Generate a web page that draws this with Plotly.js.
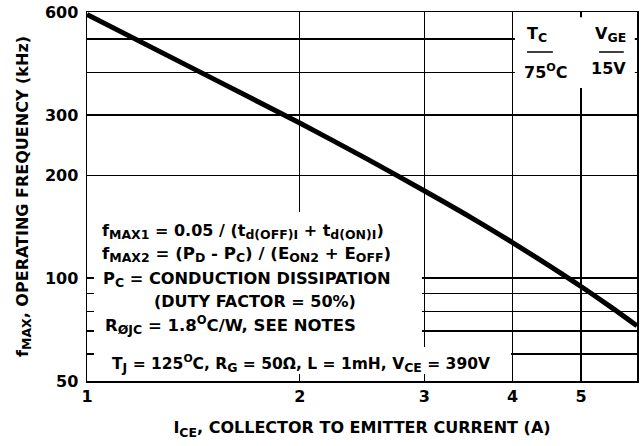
<!DOCTYPE html>
<html>
<head>
<meta charset="utf-8">
<script src="https://cdn.plot.ly/plotly-3.0.1.min.js"></script>
<style>
html, body { margin: 0; padding: 0; background: #ffffff; }
#chart { width: 642px; height: 446px; }
</style>
</head>
<body>
<div id="chart"></div>
<script>
// Collector-emitter current (A) and maximum operating frequency (kHz)
const currentA = [1, 1.5, 2, 2.5, 3, 3.5, 4, 4.5, 5, 5.5, 6];
const fmaxKHz  = [590, 385, 284, 222, 180, 150, 127, 109, 94.5, 82.5, 72.5];

// Axis ticks
const xTickVals = [1, 2, 3, 4, 5, 6];
const xTickText = ['1', '2', '3', '4', '5', '6'];
const yTickVals = [50, 100, 200, 300, 600];
const yTickText = ['50', '100', '200', '300', '600'];
const yMinorVals = [60, 70, 80, 90, 400, 500];

// subscript helper (slightly larger subscripts than the Plotly default)
const sb = (t) => '<sub><span style="font-size:12.5px">' + t + '</span></sub>';

// Labels
const xTitle = 'I' + sb('CE') + ', COLLECTOR TO EMITTER CURRENT (A)';
const yTitle = '\u00a0\u00a0\u00a0f' + sb('MAX') + ', OPERATING FREQUENCY (kHz)';
const noteLines = [
  'f' + sb('MAX1') + ' = 0.05 / (t' + sb('d(OFF)I') + ' + t' + sb('d(ON)I') + ')',
  'f' + sb('MAX2') + ' = (P' + sb('D') + ' - P' + sb('C') + ') / (E' + sb('ON2') + ' + E' + sb('OFF') + ')',
  'P' + sb('C') + ' = CONDUCTION DISSIPATION',
  '(DUTY FACTOR = 50%)',
  'R' + sb('ØJC') + ' = 1.8<sup>O</sup>C/W, SEE NOTES',
  'T' + sb('J') + ' = 125<sup>O</sup>C, R' + sb('G') + ' = 50Ω, L = 1mH, V' + sb('CE') + ' = 390V'
];
const tableHead = ['T' + sb('C'), 'V' + sb('GE')];
const tableRow  = ['75<sup>O</sup>C', '15V'];

const FONT = 'DejaVu Sans, Liberation Sans, Arial, sans-serif';
const bold = (size) => ({ family: FONT, size: size, color: '#000000', weight: 'bold' });

const trace = {
  x: currentA,
  y: fmaxKHz,
  type: 'scatter',
  mode: 'lines',
  line: { color: '#000000', width: 5, shape: 'spline', smoothing: 0.8 },
  hoverinfo: 'skip',
  showlegend: false
};

// positions of the note lines (paper coordinates) and their sizes
const notePos = [
  [0.0236, 0.405],
  [0.0236, 0.343],
  [0.0255, 0.276],
  [0.119, 0.216],
  [0.0290, 0.151],
  [0.0420, 0.048]
];
const noteSize = [16, 16.6, 16.2, 16, 16.5, 15.5];

const annotations = [];
noteLines.forEach((t, i) => {
  annotations.push({
    xref: 'paper', yref: 'paper', x: notePos[i][0], y: notePos[i][1],
    xanchor: 'left', yanchor: 'middle', text: t, showarrow: false,
    font: bold(noteSize[i])
  });
});
const headPos = [[0.8175, 0.940], [0.951, 0.940]];
const rowPos = [[0.8345, 0.838], [0.948, 0.846]];
tableHead.forEach((t, i) => {
  annotations.push({ xref: 'paper', yref: 'paper', x: headPos[i][0], y: headPos[i][1],
    xanchor: 'center', yanchor: 'middle', text: t, showarrow: false, font: bold(16) });
  annotations.push({ xref: 'paper', yref: 'paper', x: rowPos[i][0], y: rowPos[i][1],
    xanchor: 'center', yanchor: 'middle', text: tableRow[i], showarrow: false, font: bold(16) });
});

const mask = (x0, x1, y0, y1) => ({ type: 'rect', xref: 'paper', yref: 'paper',
  x0: x0, x1: x1, y0: y0, y1: y1, fillcolor: '#ffffff', line: { width: 0 }, layer: 'above' });

const shapes = [
  // white masks that break the grid behind the text, as in the original
  mask(0.0127, 0.609, 0.019, 0.458),
  mask(0.605, 0.771, 0.019, 0.092),
  mask(0.778, 0.996, 0.794, 0.986),
  // rules under the table headings
  { type: 'line', xref: 'paper', yref: 'paper', x0: 0.800, x1: 0.847, y0: 0.8916, y1: 0.8916,
    line: { color: '#000000', width: 1.5 }, layer: 'above' },
  { type: 'line', xref: 'paper', yref: 'paper', x0: 0.931, x1: 0.976, y0: 0.8916, y1: 0.8916,
    line: { color: '#000000', width: 1.5 }, layer: 'above' }
];

const layout = {
  width: 642,
  height: 446,
  margin: { l: 87, r: 5, t: 12, b: 65 },
  paper_bgcolor: '#ffffff',
  plot_bgcolor: '#ffffff',
  font: bold(16),
  showlegend: false,
  xaxis: {
    type: 'log',
    range: [Math.log10(1), Math.log10(6)],
    tickmode: 'array',
    tickvals: xTickVals,
    ticktext: xTickText,
    tickfont: bold(16),
    ticks: 'inside',
    ticklen: 6,
    tickcolor: '#000000',
    showgrid: true,
    gridcolor: '#000000',
    gridwidth: 1.2,
    showline: true,
    linecolor: '#000000',
    linewidth: 1.5,
    mirror: true,
    zeroline: false,
    title: { text: xTitle, font: bold(16), standoff: 17 }
  },
  yaxis: {
    type: 'log',
    range: [Math.log10(50), Math.log10(600)],
    tickmode: 'array',
    tickvals: yTickVals,
    ticktext: yTickText,
    tickfont: bold(16),
    ticks: 'inside',
    ticklen: 6,
    tickcolor: '#000000',
    ticklabelstandoff: 4,
    showgrid: true,
    gridcolor: '#000000',
    gridwidth: 1.2,
    minor: {
      tickmode: 'array',
      tickvals: yMinorVals,
      ticks: 'inside',
      ticklen: 6,
      tickcolor: '#000000',
      tickwidth: 1.3,
      showgrid: true,
      gridcolor: '#000000',
      gridwidth: 1.4
    },
    showline: true,
    linecolor: '#000000',
    linewidth: 1.5,
    mirror: true,
    zeroline: false,
    title: { text: yTitle, font: bold(16), standoff: 12 }
  },
  annotations: annotations,
  shapes: shapes
};

Plotly.newPlot('chart', [trace], layout, { staticPlot: true, displayModeBar: false });
</script>
</body>
</html>
